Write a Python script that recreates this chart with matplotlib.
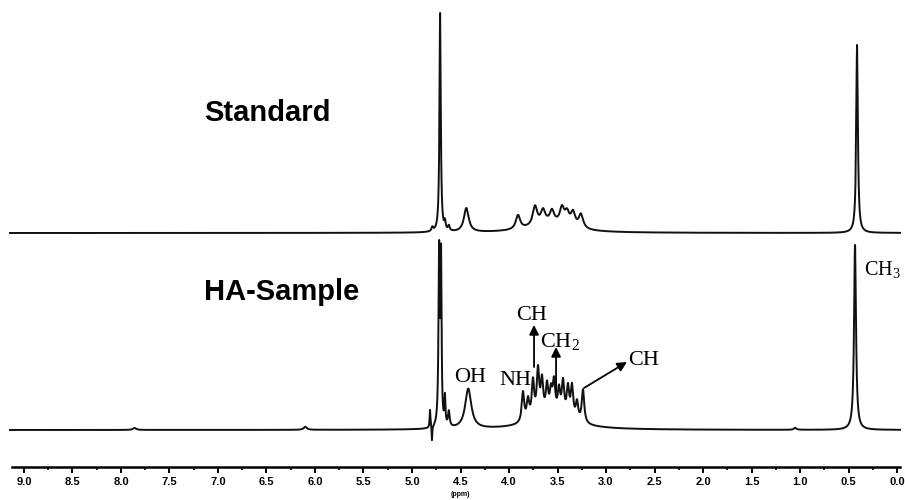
import numpy as np
import matplotlib.pyplot as plt

# 1H NMR spectra: standard vs HA sample (peak list)
# each peak: position (ppm), height (px-like units), half width (ppm)
std_pos = [4.79, 4.71, 4.66, 4.62, 4.44,
           3.907, 3.732, 3.649, 3.557, 3.454, 3.402, 3.340, 3.258, 3.58,
           0.412]
std_height = [4, 219, 8, 5, 24,
              14, 19, 13, 12, 16, 12, 14, 14, 9,
              188]
std_width = [0.01, 0.008, 0.008, 0.01, 0.03,
             0.027, 0.027, 0.027, 0.027, 0.027, 0.027, 0.027, 0.027, 0.25,
             0.01]

ha_pos = [7.86, 6.10, 4.814, 4.794, 4.72, 4.70, 4.66, 4.62, 4.42,
          3.856, 3.804, 3.753, 3.701, 3.660, 3.608, 3.567, 3.536, 3.485,
          3.443, 3.392, 3.350, 3.299, 3.237, 3.55,
          1.05, 0.433]
ha_height = [2, 3, 18, -15, 175, 160, 28, 15, 40,
             30, 20, 37, 46, 34, 28, 21, 31, 24,
             33, 29, 32, 18, 33, 13,
             2, 185]
ha_width = [0.02, 0.02, 0.005, 0.004, 0.008, 0.006, 0.006, 0.01, 0.038,
            0.015, 0.015, 0.015, 0.015, 0.015, 0.015, 0.015, 0.015, 0.015,
            0.015, 0.015, 0.015, 0.015, 0.015, 0.26,
            0.015, 0.012]

tick_values = [9.0, 8.5, 8.0, 7.5, 7.0, 6.5, 6.0, 5.5, 5.0, 4.5,
               4.0, 3.5, 3.0, 2.5, 2.0, 1.5, 1.0, 0.5, 0.0]


def spectrum(x, pos, height, width):
    y = np.zeros_like(x)
    for p, h, w in zip(pos, height, width):
        y += h * w ** 2 / ((x - p) ** 2 + w ** 2)
    return y


ppm = np.linspace(-0.031, 9.144, 30000)
std_y = spectrum(ppm, std_pos, std_height, std_width)
ha_y = spectrum(ppm, ha_pos, ha_height, ha_width)

fig = plt.figure(figsize=(9.05, 5.0), dpi=100)
ax = fig.add_axes([0, 0, 1, 1])

ax.plot(ppm, std_y + 267, color='#111111', lw=1.4)
ax.plot(ppm, ha_y + 70, color='#111111', lw=1.4)

ax.set_xlim(9.247, -0.082)
ax.set_ylim(0, 500)

# axis styling: only a bottom scale bar
for side in ['top', 'left', 'right']:
    ax.spines[side].set_visible(False)
ax.spines['bottom'].set_position(('data', 33))
ax.spines['bottom'].set_bounds(9.124, -0.031)
ax.spines['bottom'].set_linewidth(1.8)
ax.set_yticks([])
ax.set_xticks(tick_values)
ax.set_xticks(np.arange(0.25, 9.0, 0.5), minor=True)
ax.set_xticklabels([f'{v:.1f}' for v in tick_values], fontsize=8,
                   fontweight='bold', family='Liberation Sans')
ax.tick_params(axis='x', which='major', direction='out', length=4.5,
               width=1.4, pad=3)
ax.tick_params(axis='x', which='minor', direction='out', length=2.2,
               width=1.2)
ax.text(4.505, 6, '(ppm)', fontsize=5, fontweight='bold', ha='center',
        va='center', family='Liberation Sans')

# trace labels
ax.text(7.14, 387, 'Standard', fontsize=21, fontweight='bold',
        family='Liberation Sans', ha='left', va='center')
ax.text(7.14, 208, 'HA-Sample', fontsize=21, fontweight='bold',
        family='Liberation Sans', ha='left', va='center')

# peak assignments
plt.rcParams['mathtext.default'] = 'regular'
serif = dict(fontsize=16, family='Liberation Serif', va='baseline')
ax.text(4.402, 118, 'OH', ha='center', **serif)
ax.text(3.938, 115, 'NH', ha='center', **serif)
ax.text(3.763, 180, 'CH', ha='center', **serif)
ax.text(3.680, 153, 'CH$_2$', ha='left', **serif)
ax.text(2.773, 135, 'CH', ha='left', **serif)
ax.text(0.34, 225, 'CH$_3$', ha='left', fontsize=14.5,
        family='Liberation Serif', va='baseline')

arrow = dict(arrowstyle='-|>', color='black', lw=1.3, mutation_scale=14,
             shrinkA=0, shrinkB=0)
ax.annotate('', xy=(3.742, 175), xytext=(3.742, 133), arrowprops=arrow)
ax.annotate('', xy=(3.515, 153), xytext=(3.515, 108), arrowprops=arrow)
ax.annotate('', xy=(2.784, 138), xytext=(3.227, 112), arrowprops=arrow)

fig.savefig('out.png', dpi=100)
